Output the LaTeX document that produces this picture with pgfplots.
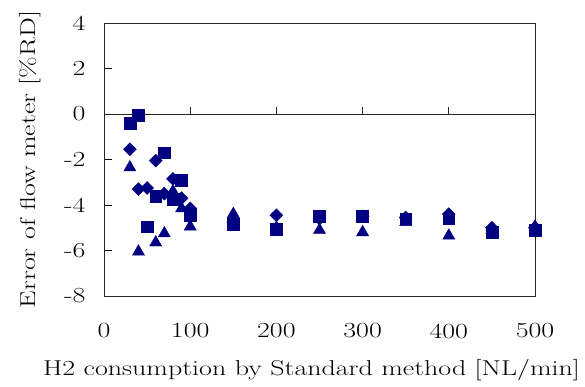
\documentclass[border=0pt]{standalone}
\usepackage{fontspec}
\setmainfont{Latin Modern Roman}[FakeStretch=1.3]
\usepackage{pgfplots}
\pgfplotsset{compat=1.18}
\definecolor{navy}{RGB}{0,0,128}

% Error of the flow meter against the standard method, three test runs
\pgfplotstableread{
x y
30 -0.40
40 -0.05
50 -4.95
60 -3.63
70 -1.70
80 -3.75
90 -2.90
100 -4.45
150 -4.85
200 -5.05
250 -4.50
300 -4.50
350 -4.60
400 -4.60
450 -5.20
500 -5.10
}\runA
\pgfplotstableread{
x y
30 -1.55
40 -3.30
50 -3.25
60 -2.05
70 -3.50
80 -2.85
90 -3.70
100 -4.15
150 -4.75
200 -4.45
250 -4.60
300 -4.50
350 -4.55
400 -4.40
450 -5.00
500 -5.00
}\runB
\pgfplotstableread{
x y
30 -2.35
40 -6.05
60 -5.65
70 -5.25
80 -3.40
90 -4.15
100 -4.95
150 -4.40
200 -5.00
250 -5.10
300 -5.20
350 -4.75
400 -5.35
450 -5.10
500 -4.95
}\runC

\begin{document}
\begin{tikzpicture}
\path[use as bounding box] (-104bp,-91bp) rectangle (481bp,296bp);
\begin{axis}[
  at={(0,0)}, anchor=south west,
  scale only axis, width=431bp, height=273bp,
  xmin=0, xmax=500, ymin=-8, ymax=4,
  xtick={0,100,200,300,400,500},
  xticklabels={0,100,200,300,400,500},
  ytick={-8,-6,-4,-2,0,2,4},
  yticklabels={-8,-6,-4,-2,0,2,4},
  ytick pos=left, tick align=inside, major tick length=8bp,
  xtick style={draw=none},
  ytick style={line width=0.8bp, black},
  axis line style={line width=0.8bp, black!85},
  ticklabel style={font=\fontsize{21.5bp}{25bp}\selectfont},
  xticklabel style={anchor=center, yshift=-35bp},
  yticklabel style={anchor=east, xshift=-15bp},
  xlabel={H2 consumption by Standard method [NL/min]},
  ylabel={Error of flow meter [\%RD]},
  label style={font=\fontsize{21.5bp}{25bp}\selectfont},
  xlabel style={at={(rel axis cs:0.5,0)}, anchor=center, yshift=-74bp, xshift=-8bp},
  ylabel style={at={(rel axis cs:0,0.5)}, anchor=center, yshift=74bp},
  clip=false,
]
% horizontal zero line with its upward ticks
\draw[line width=0.8bp, black!85] (axis cs:0,0) -- (axis cs:500,0);
\pgfplotsinvokeforeach{100,200,300,400,500}{
  \draw[line width=0.8bp, black!85] (axis cs:#1,0) -- (axis cs:#1,0.3);
}
\addplot[only marks, mark=square*, color=navy,
  mark options={rotate=45, rounded corners=0.8bp}, mark size=4.6bp] table[x=x,y=y] {\runB};
\addplot[only marks, mark=triangle*, color=navy,
  mark options={rounded corners=0.8bp}, mark size=7bp] table[x=x,y=y] {\runC};
\addplot[only marks, mark=square*, color=navy,
  mark options={rounded corners=0.8bp}, mark size=5.9bp] table[x=x,y=y] {\runA};
\end{axis}
\end{tikzpicture}
\end{document}
